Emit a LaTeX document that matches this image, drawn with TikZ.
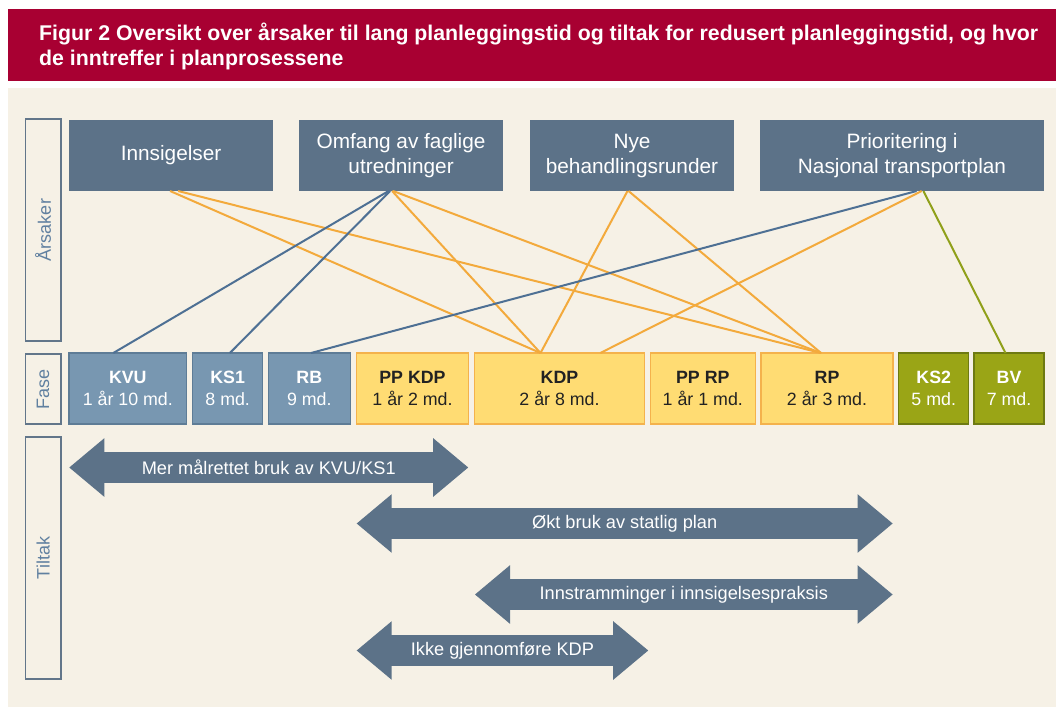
\documentclass[tikz,border=0pt]{standalone}
\usepackage{fontspec}
\setmainfont{Liberation Sans}
\definecolor{titlered}{RGB}{168,0,50}
\definecolor{paper}{RGB}{246,241,230}
\definecolor{slate}{RGB}{92,114,136}
\definecolor{phblue}{RGB}{120,151,177}
\definecolor{phblueline}{RGB}{94,124,150}
\definecolor{phyellow}{RGB}{255,220,115}
\definecolor{phyellowline}{RGB}{244,178,76}
\definecolor{pholive}{RGB}{154,165,22}
\definecolor{pholiveline}{RGB}{110,122,18}
\definecolor{labtext}{RGB}{96,128,160}
\definecolor{labline}{RGB}{98,118,138}
\definecolor{linkblue}{RGB}{78,112,148}
\definecolor{linkorange}{RGB}{243,170,60}
\definecolor{linkgreen}{RGB}{144,160,26}
\definecolor{darktext}{RGB}{34,34,34}
% centred lines on a fixed 25pt strut grid
\newcommand{\causetext}[1]{\begin{tabular}{@{}c@{}}#1\end{tabular}}
\tikzset{
  cause/.style={rectangle, fill=slate, text=white, inner sep=0pt, outer sep=0pt,
    minimum height=71pt, minimum width=204pt,
    font=\fontsize{20.8}{25}\selectfont},
  phase/.style={rectangle, inner sep=0pt, outer sep=0pt, line width=1.2pt,
    minimum height=71pt, align=center, font=\fontsize{17.8}{22}\selectfont},
  phb/.style={phase, fill=phblue, draw=phblueline, text=white},
  phy/.style={phase, fill=phyellow, draw=phyellowline, text=darktext},
  pho/.style={phase, fill=pholive, draw=pholiveline, text=white},
  lab/.style={rectangle, draw=labline, line width=1.3pt, fill=paper, text=labtext,
    inner sep=0pt, outer sep=0pt, minimum height=35.5pt, rotate=90,
    font=\fontsize{18}{22}\selectfont},
  link/.style={line width=2pt},
  lb/.style={link, draw=linkblue},
  lo/.style={link, draw=linkorange},
  lg/.style={link, draw=linkgreen},
  measure/.style={fill=slate},
  measuretext/.style={text=white, inner sep=0pt, font=\fontsize{18.2}{22}\selectfont},
}
% double-headed block arrow: #1 name, #2 left tip x, #3 right tip x, #4 centre y, #5 text
\newcommand{\blockarrow}[5]{%
  \fill[measure] (#2,#4) -- (#2+35,#4-29.3) -- (#2+35,#4-15.3) -- (#3-35,#4-15.3)
    -- (#3-35,#4-29.3) -- (#3,#4) -- (#3-35,#4+29.3) -- (#3-35,#4+15.3)
    -- (#2+35,#4+15.3) -- (#2+35,#4+29.3) -- cycle;
  \node[measuretext] (#1) at ({(#2+#3)/2},#4) {#5};}
\begin{document}
\begin{tikzpicture}[x=1pt,y=-1pt]
\useasboundingbox (0,0) rectangle (1056,707);
% title band and panel
\fill[titlered] (8,9) rectangle (1056,81);
\fill[paper] (8,88) rectangle (1056,707);
\node[anchor=base west, text=white, inner sep=0pt, font=\bfseries\fontsize{21.3}{25}\selectfont]
  (title1) at (39,40) {Figur 2 Oversikt over årsaker til lang planleggingstid og tiltak for redusert planleggingstid, og hvor};
\node[anchor=base west, text=white, inner sep=0pt, font=\bfseries\fontsize{21.3}{25}\selectfont]
  (title2) at (39,65) {de inntreffer i planprosessene};

% row labels
\node[lab, minimum width=222pt] (lars) at (43.1,230) {Årsaker};
\node[lab, minimum width=70pt] (lfase) at (43.1,389) {Fase};
\node[lab, minimum width=242pt] (ltiltak) at (43.1,558) {Tiltak};

% causes
\node[cause] (ins) at (171.1,155.5) {\causetext{Innsigelser}};
\node[cause] (omf) at (401.1,155.5) {\causetext{Omfang av faglige\\utredninger}};
\node[cause] (nye) at (632,155.5) {\causetext{Nye\\behandlingsrunder}};
\node[cause, minimum width=284pt] (pri) at (902,155.5) {\causetext{Prioritering i\\Nasjonal transportplan}};

% phases
\node[phb, minimum width=117.6pt] (kvu) at (127.8,388.5) {\textbf{KVU}\\1 år 10 md.};
\node[phb, minimum width=70pt] (ks1) at (227.7,388.5) {\textbf{KS1}\\8 md.};
\node[phb, minimum width=81.8pt] (rb) at (309.3,388.5) {\textbf{RB}\\9 md.};
\node[phy, minimum width=112.3pt] (ppkdp) at (412.5,388.5) {\textbf{PP KDP}\\1 år 2 md.};
\node[phy, minimum width=170.5pt] (kdp) at (559.5,388.5) {\textbf{KDP}\\2 år 8 md.};
\node[phy, minimum width=105pt] (pprp) at (702.8,388.5) {\textbf{PP RP}\\1 år 1 md.};
\node[phy, minimum width=132pt] (rp) at (827,388.5) {\textbf{RP}\\2 år 3 md.};
\node[pho, minimum width=69.7pt] (ks2) at (933.7,388.5) {\textbf{KS2}\\5 md.};
\node[pho, minimum width=70pt] (bv) at (1009,388.5) {\textbf{BV}\\7 md.};

% links from causes to phases
\draw[lo] ([xshift=-1pt]ins.south) -- ([xshift=-19pt]kdp.north);
\draw[lo] ([xshift=7pt]ins.south) -- ([xshift=-6pt]rp.north);
\draw[lo] ([xshift=-9pt]omf.south) -- ([xshift=-19pt]kdp.north);
\draw[lo] ([xshift=-8pt]omf.south) -- ([xshift=-6pt]rp.north);
\draw[lo] ([xshift=-4.5pt]nye.south) -- ([xshift=-19pt]kdp.north);
\draw[lo] ([xshift=-3.5pt]nye.south) -- ([xshift=-6pt]rp.north);
\draw[lo] ([xshift=19.7pt]pri.south) -- ([xshift=40.8pt]kdp.north);
\draw[lb] ([xshift=-12.5pt]omf.south) -- ([xshift=-14.5pt]kvu.north);
\draw[lb] ([xshift=-11pt]omf.south) -- ([xshift=2.2pt]ks1.north);
\draw[lb] ([xshift=14.6pt]pri.south) -- ([xshift=1.7pt]rb.north);
\draw[lg] ([xshift=21.4pt]pri.south) -- ([xshift=-3.5pt]bv.north);

% measures
\blockarrow{m1}{69.3}{468.2}{467.5}{Mer målrettet bruk av KVU/KS1}
\blockarrow{m2}{356.7}{892.6}{523.5}{Økt bruk av statlig plan}
\blockarrow{m3}{475}{892.6}{594.5}{Innstramminger i innsigelsespraksis}
\blockarrow{m4}{356.7}{648.2}{650.5}{Ikke gjennomføre KDP}
\end{tikzpicture}
\end{document}
